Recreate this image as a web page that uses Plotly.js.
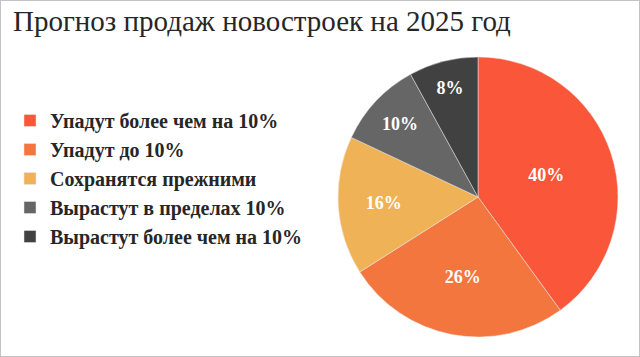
<!DOCTYPE html>
<html>
<head>
<meta charset="utf-8">
<script src="https://cdn.plot.ly/plotly-3.0.1.min.js"></script>
<style>
html,body{margin:0;padding:0;background:#fff;}
#chart{width:638px;height:355px;border:1px solid #c3c3c3;}
</style>
</head>
<body>
<div id="chart"></div>
<script>
const categories = ["Упадут более чем на 10%", "Упадут до 10%", "Сохранятся прежними", "Вырастут в пределах 10%", "Вырастут более чем на 10%"];
const shares = [40, 26, 16, 10, 8];
const colors = ["#F9563A", "#F3763F", "#F0B257", "#666666", "#414141"];
const titleText = "Прогноз продаж новостроек на 2025 год";

const W = 638, H = 355;
const cx = 477, cy = 196, r = 140;
const SERIF = "Liberation Serif";

const trace = {
  type: "pie",
  labels: categories,
  values: shares,
  sort: false,
  direction: "clockwise",
  rotation: 0,
  marker: {colors: colors, line: {color: "#e8e8e8", width: 0.5}},
  texttemplate: "%{percent:.0%}",
  textposition: "inside",
  insidetextorientation: "horizontal",
  textfont: {family: SERIF, size: 18, color: "#ffffff", weight: "bold"},
  hoverinfo: "label+percent",
  domain: {x: [(cx - r) / W, (cx + r) / W], y: [(H - cy - r) / H, (H - cy + r) / H]}
};

const layout = {
  width: W, height: H,
  margin: {l: 0, r: 0, t: 0, b: 0},
  paper_bgcolor: "#ffffff",
  font: {family: SERIF},
  title: {
    text: titleText,
    font: {family: SERIF, size: 29, color: "#262626"},
    x: 12 / W, xanchor: "left", xref: "paper",
    y: 1 - 20 / H, yanchor: "middle", yref: "container"
  },
  showlegend: true,
  legend: {
    x: 9 / W, xanchor: "left",
    y: 1 - 100 / H, yanchor: "top",
    font: {family: SERIF, size: 20, color: "#262626", weight: "bold"},
    itemwidth: 30,
    bgcolor: "rgba(0,0,0,0)"
  }
};

Plotly.newPlot("chart", [trace], layout, {displayModeBar: false, staticPlot: true});
</script>
</body>
</html>
